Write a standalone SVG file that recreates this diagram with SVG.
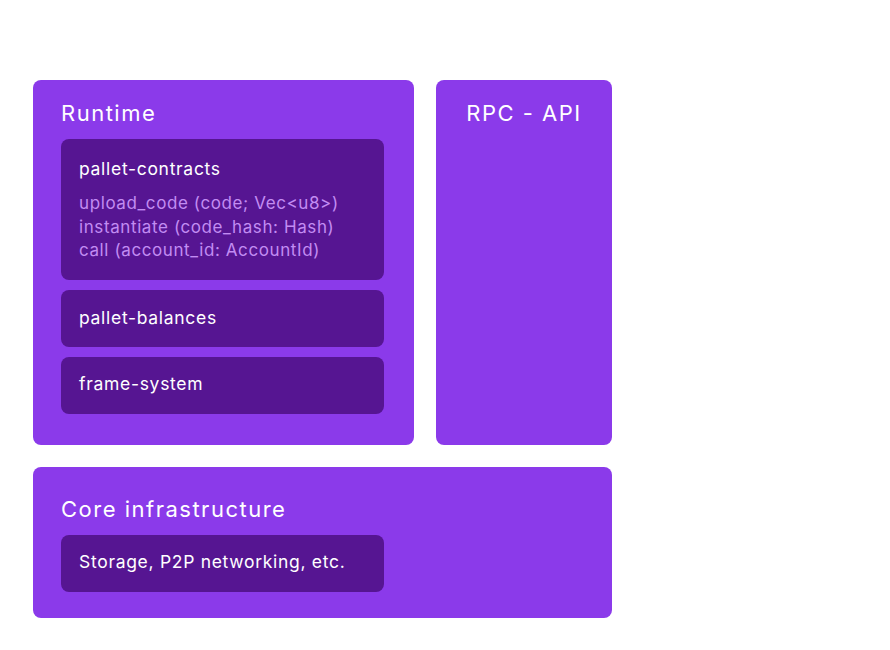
<svg xmlns="http://www.w3.org/2000/svg" width="890" height="650" viewBox="0 0 890 650">
<style>
.outer{fill:#8B3AEA}
.inner{fill:#561592}
.title{font-family:Inter,"Noto Sans",sans-serif;font-size:22px;letter-spacing:1.5px;fill:#ffffff}
.label{font-family:Inter,"Noto Sans",sans-serif;font-size:17.5px;letter-spacing:0.7px;fill:#ffffff}
.sub{font-family:Inter,"Noto Sans",sans-serif;font-size:17px;letter-spacing:0.6px;fill:#C28CF2}
</style>
<rect width="890" height="650" fill="#ffffff"/>
<g id="runtime">
<rect class="outer" x="33" y="80" width="381" height="365" rx="8"/>
<text class="title" x="61" y="121">Runtime</text>
</g>
<g id="pallet-contracts">
<rect class="inner" x="61" y="139" width="323" height="141" rx="8"/>
<text class="label" x="79" y="175">pallet-contracts</text>
<text class="sub" x="79" y="209">upload_code (code; Vec&lt;u8&gt;)</text>
<text class="sub" x="79" y="233">instantiate (code_hash: Hash)</text>
<text class="sub" x="79" y="256">call (account_id: AccountId)</text>
</g>
<g id="pallet-balances">
<rect class="inner" x="61" y="290" width="323" height="57" rx="8"/>
<text class="label" x="79" y="324">pallet-balances</text>
</g>
<g id="frame-system">
<rect class="inner" x="61" y="357" width="323" height="57" rx="8"/>
<text class="label" x="79" y="390">frame-system</text>
</g>
<g id="rpc-api">
<rect class="outer" x="436" y="80" width="176" height="365" rx="8"/>
<text class="title" x="524" y="121" text-anchor="middle">RPC - API</text>
</g>
<g id="core">
<rect class="outer" x="33" y="467" width="579" height="151" rx="8"/>
<text class="title" x="61" y="517">Core infrastructure</text>
</g>
<g id="storage">
<rect class="inner" x="61" y="535" width="323" height="57" rx="8"/>
<text class="label" x="79" y="568">Storage, P2P networking, etc.</text>
</g>
<g id="connectors"></g>
</svg>
